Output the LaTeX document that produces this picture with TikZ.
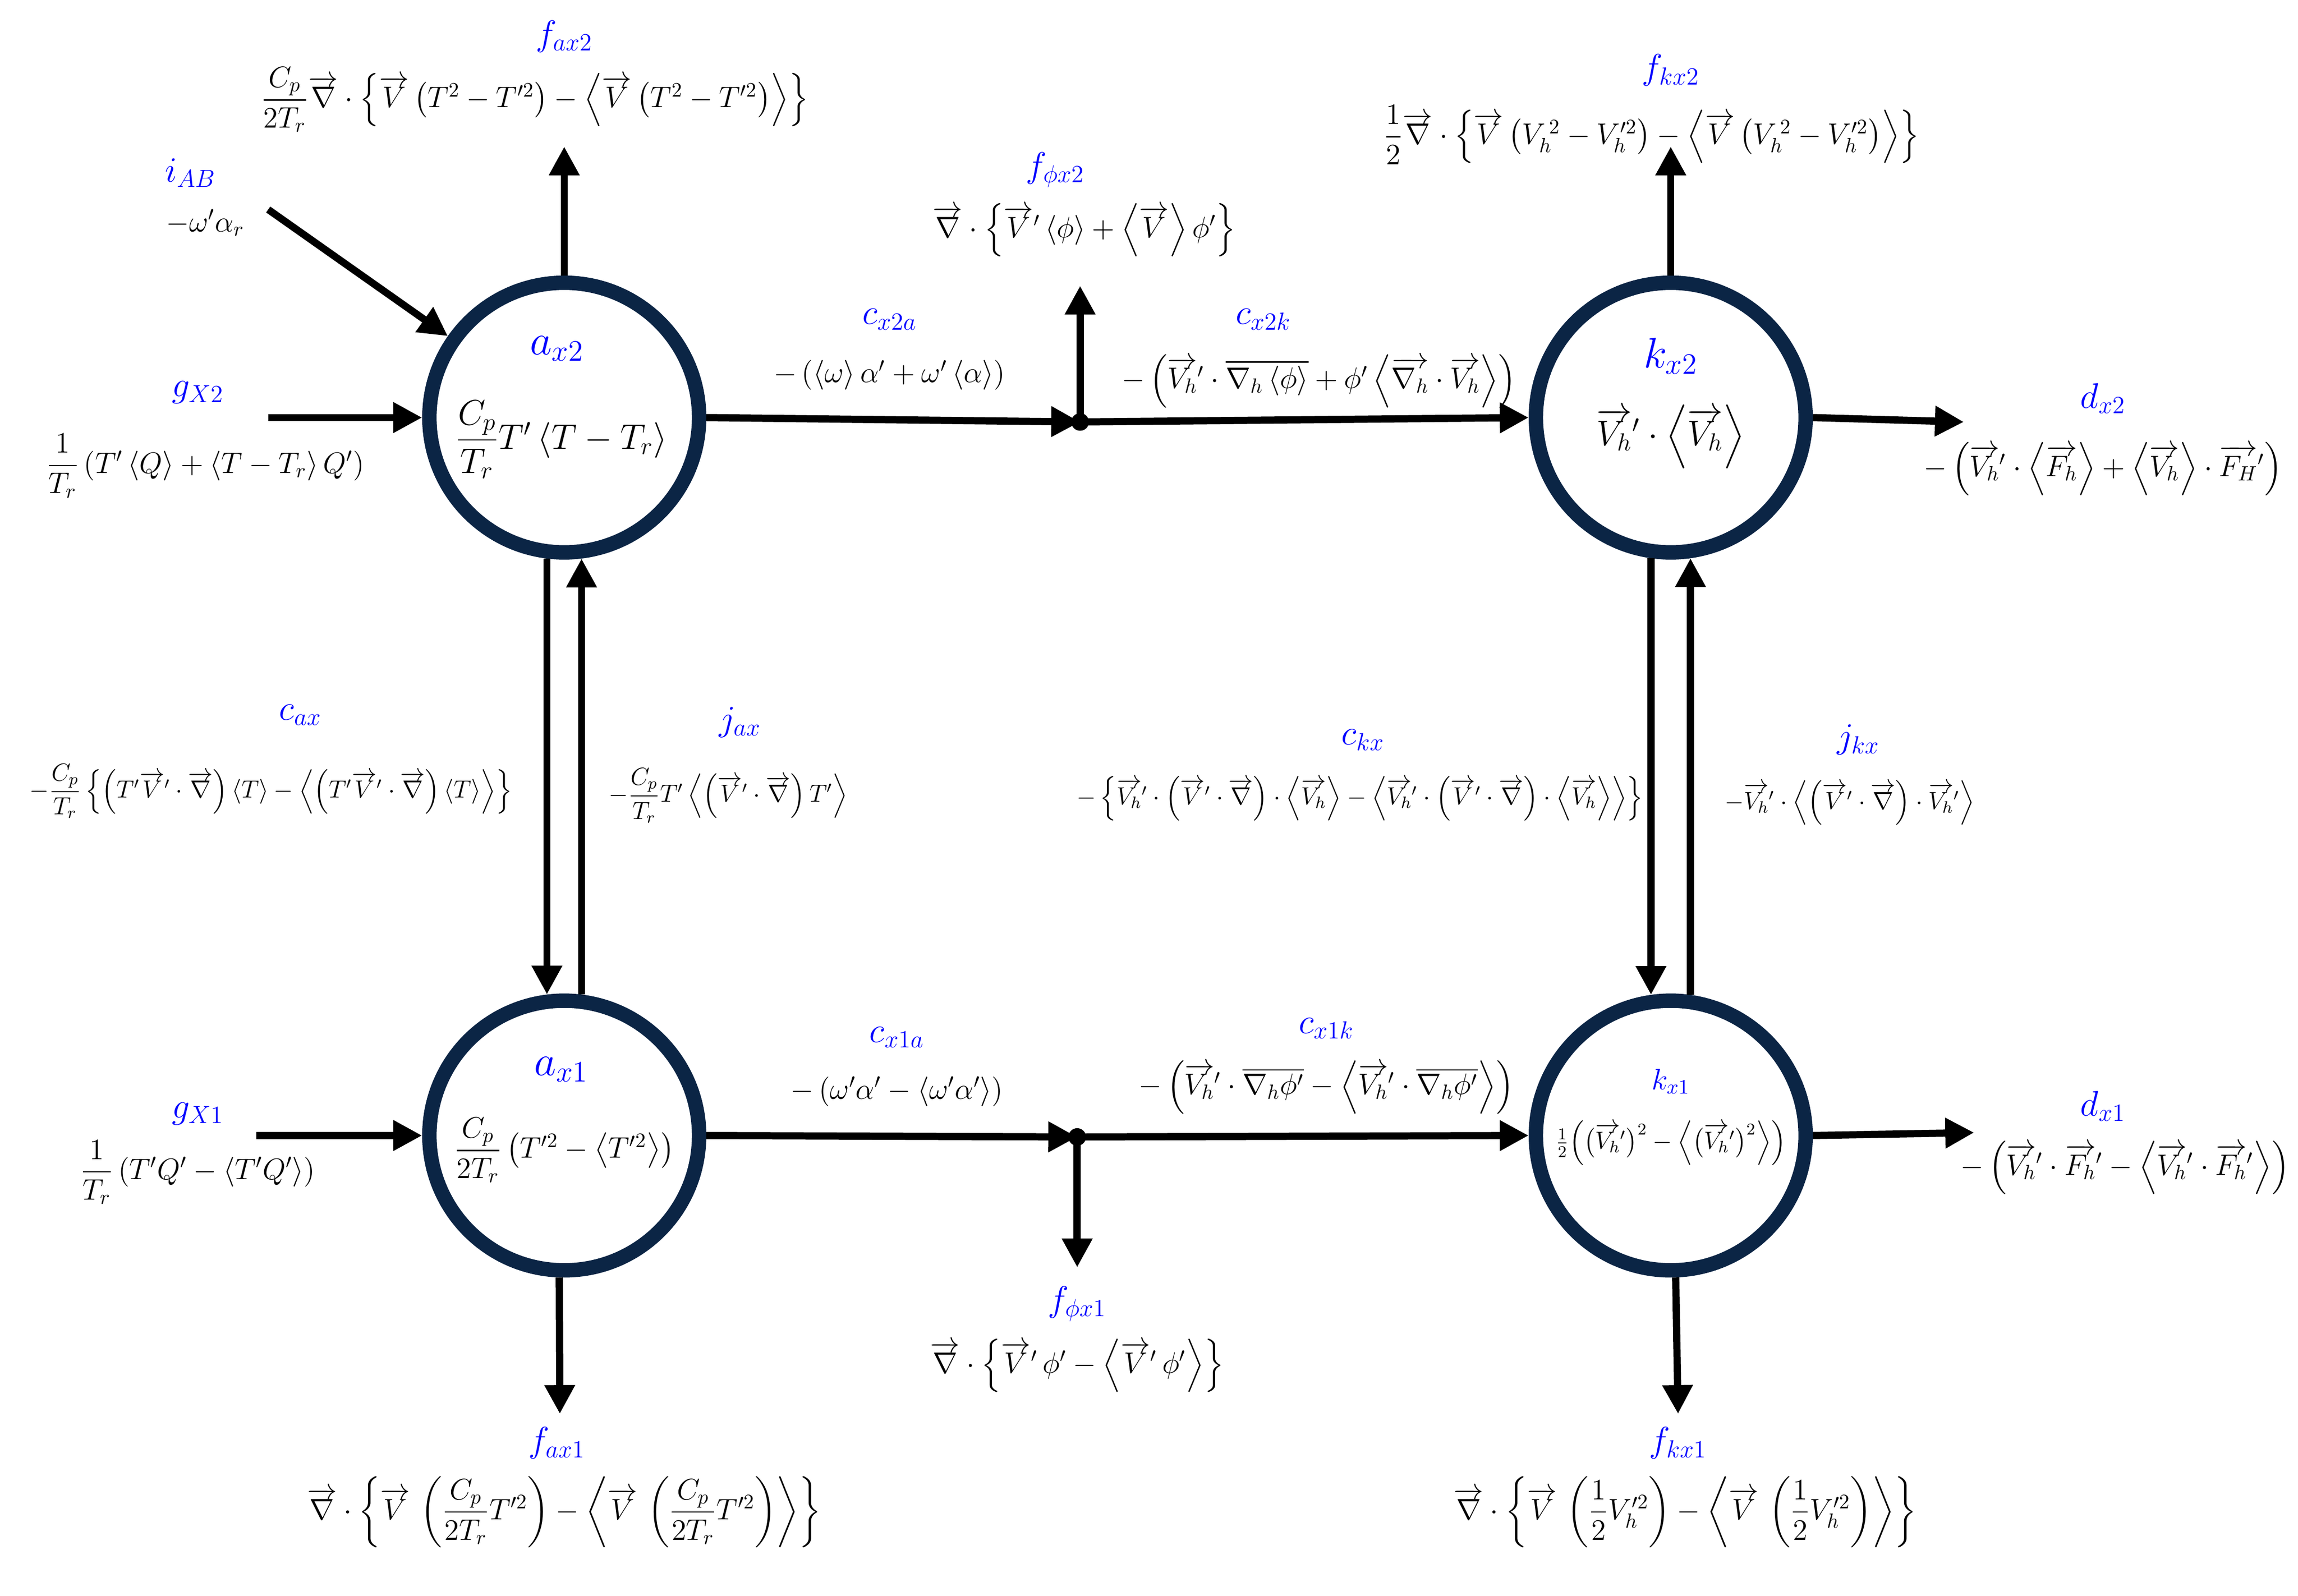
\documentclass[tikz,border=0pt]{standalone}
\usepackage{amsmath}
\usetikzlibrary{arrows.meta}
\newcommand{\vv}[1]{\overrightarrow{#1}}
\newcommand{\avg}[1]{\left\langle #1\right\rangle}
\tikzset{
  box/.style={circle, draw=navy, line width=7pt, minimum size=4.6cm, inner sep=0pt},
  flow/.style={line width=3.5pt, -{Triangle[length=14pt,width=14pt]}},
  lab/.style={text=blue, font=\LARGE},
  eq/.style={font=\Large},
  eqs/.style={font=\large},
}
\definecolor{navy}{RGB}{11,37,69}
\begin{document}
\begin{tikzpicture}[x=0.025cm,y=-0.025cm]
        \useasboundingbox (0,0) rectangle (1568,1089);

        %reservoirs
        \node[box] (ax2) at (385,285) {};
        \node[box] (ax1) at (385,775) {};
        \node[box] (kx2) at (1140,285) {};
        \node[box] (kx1) at (1140,775) {};

        \node[lab] at (380,238) {\huge$a_{x2}$};
        \node[eq]  at (383,300) {\LARGE$\dfrac{C_p}{T_r}T'\avg{T-T_r}$};
        \node[lab] at (383,730) {\huge$a_{x1}$};
        \node[eq]  at (385,785) {$\dfrac{C_p}{2T_r}\left(T'^2-\avg{T'^2}\right)$};
        \node[lab] at (1140,243) {\huge$k_{x2}$};
        \node[eq]  at (1140,298) {\LARGE$\vv{V_h}'\cdot\avg{\vv{V_h}}$};
        \node[lab] at (1140,738) {\Large$k_{x1}$};
        \node[eq]  at (1140,780) {\large$\frac{1}{2}\Bigl(\bigl(\vv{V_h}'\bigr)^2-\Bigl\langle\bigl(\vv{V_h}'\bigr)^2\Bigr\rangle\Bigr)$};

        %free ends
        \coordinate (fax2) at (385,100);
        \coordinate (iab)  at (183,143);
        \coordinate (gx2)  at (183,285);
        \coordinate (px2)  at (737,288);
        \coordinate (fpx2) at (737,195);
        \coordinate (fkx2) at (1140,100);
        \coordinate (dx2)  at (1340,288);
        \coordinate (gx1)  at (175,775);
        \coordinate (px1)  at (735,776);
        \coordinate (fpx1) at (735,865);
        \coordinate (fkx1) at (1145,965);
        \coordinate (fax1) at (382,965);
        \coordinate (dx1)  at (1347,773);

        %upper row
        \draw[flow] (ax2.90) -- (fax2);
        \draw[flow] (iab) -- (ax2.145);
        \draw[flow] (gx2) -- (ax2.180);
        \draw[flow] (ax2.0) -- (px2);
        \fill (px2) circle (6);
        \draw[flow] (px2) -- (fpx2);
        \draw[flow] (px2) -- (kx2.180);
        \draw[flow] (kx2.90) -- (fkx2);
        \draw[flow] (kx2.0) -- (dx2);

        %exchanges
        \draw[flow] (ax2.263) -- (ax1.97);
        \draw[flow] (ax1.83) -- (ax2.277);
        \draw[flow] (kx2.262) -- (kx1.98);
        \draw[flow] (kx1.82) -- (kx2.278);

        %lower row
        \draw[flow] (gx1) -- (ax1.180);
        \draw[flow] (ax1.0) -- (px1);
        \fill (px1) circle (6);
        \draw[flow] (px1) -- (fpx1);
        \draw[flow] (px1) -- (kx1.180);
        \draw[flow] (kx1.272) -- (fkx1);
        \draw[flow] (ax1.268) -- (fax1);
        \draw[flow] (kx1.0) -- (dx1);

        %labels
        \node[lab] at (385,25) {$f_{ax2}$};
        \node[eq]  at (365,68) {$\dfrac{C_p}{2T_r}\vv{\nabla}\cdot\left\{\vv{V}\left(T^2-T'^2\right)-\avg{\vv{V}\left(T^2-T'^2\right)}\right\}$};
        \node[lab] at (130,118) {$i_{AB}$};
        \node[eq]  at (140,152) {$-\omega'\alpha_r$};
        \node[lab] at (135,268) {$g_{X2}$};
        \node[eq]  at (140,318) {$\dfrac{1}{T_r}\left(T'\avg{Q}+\avg{T-T_r}Q'\right)$};
        \node[lab] at (607,218) {$c_{x2a}$};
        \node[eq]  at (607,256) {$-\left(\avg{\omega}\alpha'+\omega'\avg{\alpha}\right)$};
        \node[lab] at (720,116) {$f_{\phi x2}$};
        \node[eq]  at (740,157) {$\vv{\nabla}\cdot\left\{\vv{V}'\avg{\phi}+\avg{\vv{V}}\phi'\right\}$};
        \node[lab] at (862,218) {$c_{x2k}$};
        \node[eq]  at (900,260) {$-\left(\vv{V_h}'\cdot\overline{\nabla_h\avg{\phi}}+\phi'\avg{\vv{\nabla_h}\cdot\vv{V_h}}\right)$};
        \node[lab] at (1140,48) {$f_{kx2}$};
        \node[eq]  at (1127,92) {$\dfrac{1}{2}\vv{\nabla}\cdot\left\{\vv{V}\left(V_h^{\,2}-V_h'^2\right)-\avg{\vv{V}\left(V_h^{\,2}-V_h'^2\right)}\right\}$};
        \node[lab] at (1435,272) {$d_{x2}$};
        \node[eq]  at (1435,320) {$-\left(\vv{V_h}'\cdot\avg{\vv{F_h}}+\avg{\vv{V_h}}\cdot\vv{F_H}'\right)$};

        \node[lab] at (205,488) {$c_{ax}$};
        \node[eqs] at (185,540) {$-\dfrac{C_p}{T_r}\left\{\left(T'\vv{V}'\cdot\vv{\nabla}\right)\avg{T}-\avg{\left(T'\vv{V}'\cdot\vv{\nabla}\right)\avg{T}}\right\}$};
        \node[lab] at (505,493) {$j_{ax}$};
        \node[eqs] at (497,543) {$-\dfrac{C_p}{T_r}T'\avg{\left(\vv{V}'\cdot\vv{\nabla}\right)T'}$};
        \node[lab] at (930,505) {$c_{kx}$};
        \node[eqs] at (928,545) {$-\left\{\vv{V_h}'\cdot\left(\vv{V}'\cdot\vv{\nabla}\right)\cdot\avg{\vv{V_h}}-\avg{\vv{V_h}'\cdot\left(\vv{V}'\cdot\vv{\nabla}\right)\cdot\avg{\vv{V_h}}}\right\}$};
        \node[lab] at (1268,505) {$j_{kx}$};
        \node[eqs] at (1262,548) {$-\vv{V_h}'\cdot\avg{\left(\vv{V}'\cdot\vv{\nabla}\right)\cdot\vv{V_h}'}$};

        \node[lab] at (135,760) {$g_{X1}$};
        \node[eq]  at (135,800) {$\dfrac{1}{T_r}\left(T'Q'-\avg{T'Q'}\right)$};
        \node[lab] at (612,708) {$c_{x1a}$};
        \node[eq]  at (612,745) {$-\left(\omega'\alpha'-\avg{\omega'\alpha'}\right)$};
        \node[lab] at (905,702) {$c_{x1k}$};
        \node[eq]  at (905,742) {$-\left(\vv{V_h}'\cdot\overline{\nabla_h\phi'}-\avg{\vv{V_h}'\cdot\overline{\nabla_h\phi'}}\right)$};
        \node[lab] at (1435,755) {$d_{x1}$};
        \node[eq]  at (1450,797) {$-\left(\vv{V_h}'\cdot\vv{F_h}'-\avg{\vv{V_h}'\cdot\vv{F_h}'}\right)$};
        \node[lab] at (735,890) {$f_{\phi x1}$};
        \node[eq]  at (735,932) {$\vv{\nabla}\cdot\left\{\vv{V}'\,\phi'-\avg{\vv{V}'\,\phi'}\right\}$};
        \node[lab] at (380,985) {$f_{ax1}$};
        \node[eq]  at (385,1032) {$\vv{\nabla}\cdot\left\{\vv{V}\,\left(\dfrac{C_p}{2T_r}T'^2\right)-\avg{\vv{V}\,\left(\dfrac{C_p}{2T_r}T'^2\right)}\right\}$};
        \node[lab] at (1145,985) {$f_{kx1}$};
        \node[eq]  at (1150,1032) {$\vv{\nabla}\cdot\left\{\vv{V}\,\left(\dfrac{1}{2}V_h'^2\right)-\avg{\vv{V}\,\left(\dfrac{1}{2}V_h'^2\right)}\right\}$};

    \end{tikzpicture}
\end{document}
